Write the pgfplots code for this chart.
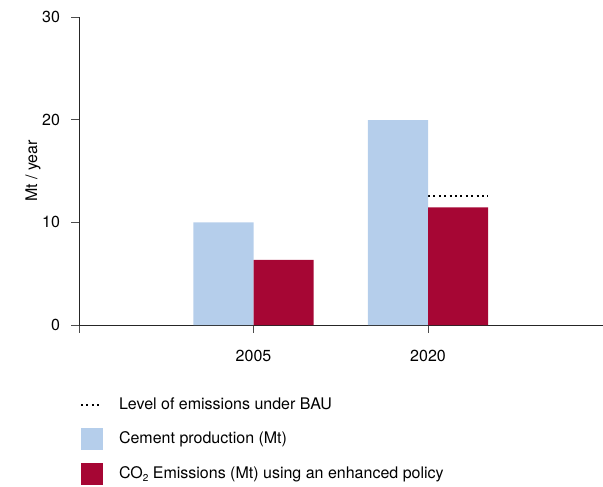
\documentclass[border=0pt]{standalone}
\usepackage{fontspec}
\setmainfont{TeX Gyre Heros}
\usepackage{pgfplots}
\pgfplotsset{compat=1.18}
\definecolor{cementblue}{RGB}{181,206,235}
\definecolor{co2red}{RGB}{166,6,52}
\pgfplotsset{
  dotlegend/.style={legend image code/.code={\path[draw=none, fill=none] (0pt,-5.5pt) rectangle (11pt,5.5pt);
    \draw[##1] (0pt,0pt) -- (10pt,0pt);}},
  boxlegend/.style={legend image code/.code={\fill[#1] (0pt,-5.5pt) rectangle (11pt,5.5pt);}},
}
\begin{document}
\begin{tikzpicture}
\useasboundingbox (-39.5pt,-80.5pt) rectangle (262pt,162.5pt);
\begin{axis}[
  at={(0,0)}, anchor=south west,
  scale only axis, width=261.75pt, height=154pt,
  xmin=0, xmax=3, ymin=0, ymax=30,
  axis lines=left,
  axis line style={-, line width=0.5pt, black!85},
  xtick={0,1,2}, xticklabels={,2005,2020},
  ytick={0,10,20,30},
  tick align=outside,
  major tick length=3.8pt,
  tick style={line width=0.5pt, black!70},
  /pgf/number format/assume math mode=true,
  tick label style={font=\fontsize{8}{9.6}\selectfont},
  yticklabel style={xshift=-2.2pt},
  xticklabel style={yshift=-5.2pt},
  ylabel={Mt / year},
  ylabel style={at={(axis description cs:-0.088,0.5)}, anchor=center, font=\fontsize{8}{9.6}\selectfont},
  legend style={at={(axis description cs:0.002,-0.224)}, anchor=north west,
    draw=none, inner sep=0pt, outer sep=0pt, row sep=6.25pt, column sep=8pt,
    font=\fontsize{8}{9.6}\selectfont,
    nodes={inner sep=0pt, text height=5.9pt, text depth=1.7pt}},
  legend cell align=left,
]
\addplot[black, line width=1pt, dash pattern=on 1pt off 1.7pt, dotlegend]
  coordinates {(2,12.6) (2.345,12.6)};
\addlegendentry{Level of emissions under BAU}
\addplot[ybar, bar width=0.345, bar shift=-0.1725, fill=cementblue, draw=none, boxlegend=cementblue]
  coordinates {(1,10.0) (2,19.95)};
\addlegendentry{Cement production (Mt)}
\addplot[ybar, bar width=0.345, bar shift=0.1725, fill=co2red, draw=none, boxlegend=co2red]
  coordinates {(1,6.35) (2,11.45)};
\addlegendentry{CO\raisebox{-0.35ex}{\fontsize{5}{6}\selectfont 2} Emissions (Mt) using an enhanced policy}
\end{axis}
\end{tikzpicture}
\end{document}
